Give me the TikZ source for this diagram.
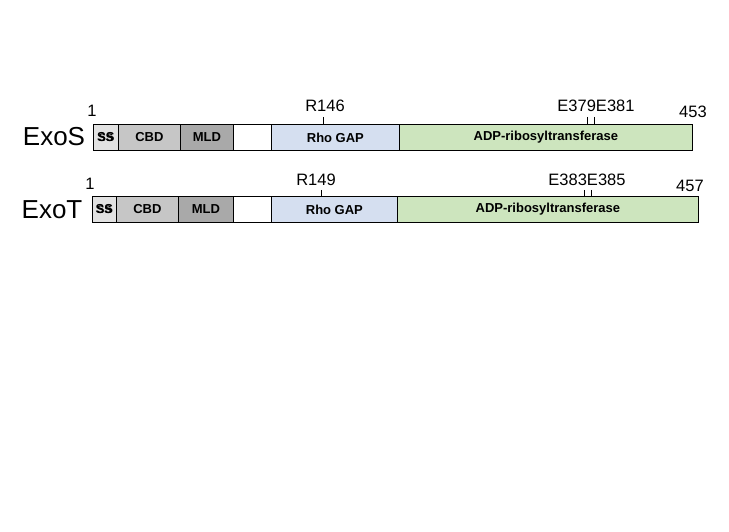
\documentclass[tikz,border=0pt]{standalone}
\usepackage{fontspec}
\setmainfont{Liberation Sans}
\begin{document}
\begin{tikzpicture}
    [   x=1pt,y=-1pt,
        dom/.style={draw=black,thick,fill=#1,minimum height=26pt,inner sep=0pt,
                    font=\bfseries\fontsize{13}{15}\selectfont,anchor=north west},
        small/.style={font=\bfseries\fontsize{11}{13}\selectfont},
        num/.style={font=\fontsize{16.5}{19}\selectfont,inner sep=0pt},
        prot/.style={font=\fontsize{26}{30}\selectfont,inner sep=0pt},
    ]
        \useasboundingbox (0,0) rectangle (729,532);
        \definecolor{ssgray}{HTML}{E2E2E2}
        \definecolor{cbdgray}{HTML}{C6C6C6}
        \definecolor{mldgray}{HTML}{A9A9A9}
        \definecolor{gapblue}{HTML}{D5DFF0}
        \definecolor{artgreen}{HTML}{CDE5BE}
        % ExoS
        \node[prot] (s-name) at (54,137) {ExoS};
        \node[num] (s-first) at (92,111) {1};
        \node[num] (s-last) at (693,112) {453};
        \foreach \a/\b/\c/\t/\n in {93/118/ssgray/SS/ss,118/180/cbdgray/CBD/cbd,180/233/mldgray/MLD/mld,
                                   233/271/white/{}/link,271/399/gapblue/Rho GAP/gap,399/692/artgreen/ADP-ribosyltransferase/art}
        {   \pgfmathsetmacro{\w}{\b-\a}
            \node[dom=\c,minimum width=\w pt] (s-\n) at (\a,124) {\t};
        }
        \node[small] at (s-ss) {SS};
        \node[num] (s-r) at (325,106) {R146};
        \node[num] (s-e) at (596,106) {E379E381};
        \coordinate (s-t1) at (323,117);
        \coordinate (s-t2) at (587,117);
        \coordinate (s-t3) at (594,117);
        \foreach \t in {1,2,3}
            \draw[thick] (s-t\t) -- +(0,7);
        % ExoT
        \node[prot] (t-name) at (52,210) {ExoT};
        \node[num] (t-first) at (90,184) {1};
        \node[num] (t-last) at (690,186) {457};
        \foreach \a/\b/\c/\t/\n in {92/116/ssgray/SS/ss,116/178/cbdgray/CBD/cbd,178/233/mldgray/MLD/mld,
                                   233/271/white/{}/link,271/397/gapblue/Rho GAP/gap,397/698/artgreen/ADP-ribosyltransferase/art}
        {   \pgfmathsetmacro{\w}{\b-\a}
            \node[dom=\c,minimum width=\w pt] (t-\n) at (\a,196) {\t};
        }
        \node[small] at (t-ss) {SS};
        \node[num] (t-r) at (316,180) {R149};
        \node[num] (t-e) at (587,180) {E383E385};
        \coordinate (t-t1) at (321,190);
        \coordinate (t-t2) at (584,190);
        \coordinate (t-t3) at (591,190);
        \foreach \t in {1,2,3}
            \draw[thin] (t-t\t) -- +(0,6);
\end{tikzpicture}
\end{document}
